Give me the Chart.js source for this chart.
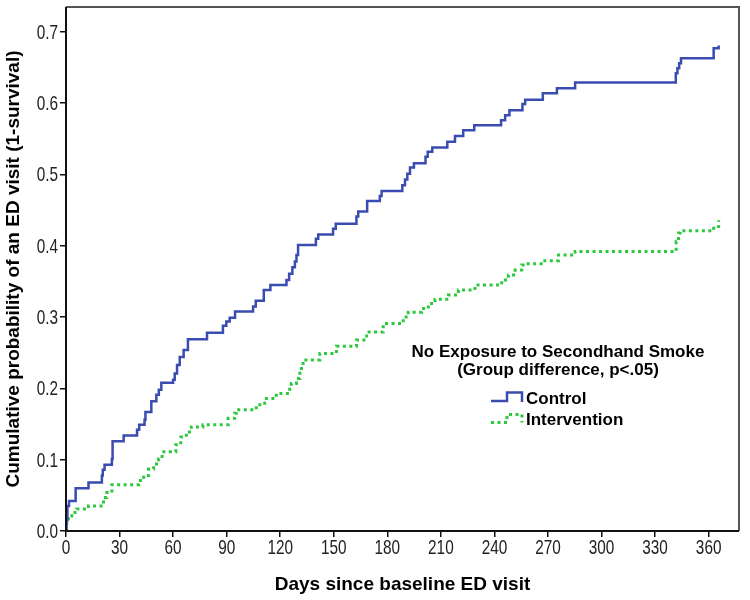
<!DOCTYPE html>
<html>
<head>
<meta charset="utf-8">
<script src="https://cdn.jsdelivr.net/npm/chart.js@4.4.1/dist/chart.umd.min.js"></script>
<style>
  html, body { margin: 0; padding: 0; background: #ffffff; }
  #wrap { width: 750px; height: 600px; position: relative; }
</style>
</head>
<body>
<div id="wrap"><canvas id="c" width="750" height="600"></canvas></div>
<script>
// ---- Data ----
const xTitle = "Days since baseline ED visit";
const yTitle = "Cumulative probability of an ED visit (1-survival)";
const legendTitle = ["No Exposure to Secondhand Smoke", "(Group difference, p<.05)"];
const seriesNames = ["Control", "Intervention"];

const controlDays = [0, 0.3, 0.8, 1.7, 5.4, 12.6, 20.1, 20.6, 21.6, 25.7, 26.1, 32.3, 39.8, 41, 44, 44.5, 47.8, 50.6, 52, 53.4,
  60, 60.9, 62.2, 63.7, 65.9, 68.3, 79, 87.9, 89.8, 91.7, 94.7, 104.8, 106.3, 110.8, 114.5, 123.5, 125,
  126.8, 128.2, 129.1, 130, 140, 141.3, 149.6, 151.1, 162.7, 163.7, 168.7, 175.8, 176.8, 188.4, 189.9, 191.2, 192.7, 194.9,
  201.4, 202.6, 205.2, 213.6, 217.9, 222.5, 228.7, 243.7, 246, 248.4, 255.7, 257.2,
  267.1, 275, 285.2, 341.6, 342.5, 343.5, 344.5, 362.8, 365.6];
const controlValues = [0, 0.015, 0.035, 0.042, 0.060, 0.068, 0.078, 0.086, 0.093, 0.101, 0.126, 0.134, 0.142, 0.149, 0.156, 0.167, 0.182, 0.191, 0.198, 0.208,
  0.212, 0.221, 0.233, 0.244, 0.254, 0.269, 0.278, 0.288, 0.294, 0.299, 0.308, 0.315, 0.323, 0.338, 0.345, 0.352, 0.361,
  0.370, 0.378, 0.387, 0.401, 0.410, 0.416, 0.424, 0.431, 0.441, 0.448, 0.463, 0.470, 0.477, 0.485, 0.493, 0.501, 0.510, 0.516,
  0.525, 0.532, 0.538, 0.546, 0.554, 0.562, 0.569, 0.576, 0.583, 0.590, 0.599, 0.605,
  0.614, 0.621, 0.629, 0.642, 0.649, 0.656, 0.663, 0.677, 0.681];

const interventionDays = [0, 0.4, 1.3, 3.2, 6, 12.6, 21, 22.9, 25.7, 40.7, 43.5, 46.3, 49.1, 51.9, 53.8, 61.5, 64.3, 67.4, 70.2,
  76.7, 90.8, 94.5, 95.4, 106.6, 111.3, 117.8, 125.3, 126.2,
  129.1, 131, 132.8, 142.2, 151.5, 162.7, 168.4, 177.7, 188.9, 191.7,
  199.2, 203, 206.7, 214.2, 219.8, 229.1, 244.1, 247.8, 251.6, 255.3, 257.2,
  267.1, 275.9, 285.2, 341.8, 343.1, 344, 362.8, 365.6];
const interventionValues = [0, 0.012, 0.021, 0.026, 0.031, 0.035, 0.047, 0.054, 0.065, 0.071, 0.078, 0.087, 0.094, 0.101, 0.111, 0.121, 0.132, 0.139, 0.146,
  0.149, 0.158, 0.165, 0.170, 0.177, 0.186, 0.193, 0.202, 0.207,
  0.214, 0.228, 0.240, 0.249, 0.259, 0.268, 0.279, 0.291, 0.300, 0.307,
  0.312, 0.319, 0.325, 0.331, 0.338, 0.345, 0.352, 0.359, 0.366, 0.373, 0.375,
  0.379, 0.387, 0.392, 0.406, 0.418, 0.421, 0.427, 0.436];

const xTickStep = 30;
const yTickStep = 0.1;
const xMax = 377;
const yMax = 0.735;

// ---- Styles ----
const blue = '#3a4cb0';
const green = '#2cc83e';
const tickFont = "'Liberation Sans', Arial, sans-serif";
const boldFont = "'Liberation Sans', Arial, sans-serif";

function toPoints(xs, ys) { return xs.map((x, i) => ({ x: x, y: ys[i] })); }

const frameAndLegend = {
  id: 'frameAndLegend',
  afterDatasetsDraw(chart) {
    const ctx = chart.ctx;
    const a = chart.chartArea;
    ctx.save();
    // top & right frame
    ctx.strokeStyle = '#555';
    ctx.lineWidth = 2;
    ctx.beginPath();
    ctx.moveTo(a.left, a.top);
    ctx.lineTo(a.right, a.top);
    ctx.lineTo(a.right, a.bottom);
    ctx.stroke();
    // left & bottom axes
    ctx.strokeStyle = '#111';
    ctx.beginPath();
    ctx.moveTo(a.left, a.top);
    ctx.lineTo(a.left, a.bottom);
    ctx.lineTo(a.right, a.bottom);
    ctx.stroke();

    // condensed tick labels (narrow face, like the reference)
    ctx.fillStyle = '#222';
    ctx.font = '21px ' + tickFont;
    ctx.textBaseline = 'middle';
    const xs = chart.scales.x, ys = chart.scales.y;
    ctx.textAlign = 'center';
    xs.ticks.forEach(t => {
      const px = xs.getPixelForValue(t.value);
      ctx.save();
      ctx.translate(px, a.bottom + 17);
      ctx.scale(0.73, 1);
      ctx.fillText(String(t.value), 0, 0);
      ctx.restore();
    });
    ctx.textAlign = 'right';
    ys.ticks.forEach(t => {
      const py = ys.getPixelForValue(t.value);
      ctx.save();
      ctx.translate(a.left - 8, py + 1);
      ctx.scale(0.73, 1);
      ctx.fillText(t.value.toFixed(1), 0, 0);
      ctx.restore();
    });

    // legend block (anchored to chart area)
    const cx = a.left + 492;
    ctx.fillStyle = '#000';
    ctx.textAlign = 'center';
    ctx.textBaseline = 'middle';
    ctx.font = 'bold 17px ' + boldFont;
    ctx.fillText(legendTitle[0], cx, a.top + 345);
    ctx.fillText(legendTitle[1], cx, a.top + 363);

    const ix0 = a.left + 425, ixm = a.left + 441, ix1 = a.left + 456;
    // control icon
    ctx.strokeStyle = blue;
    ctx.lineWidth = 2.5;
    ctx.setLineDash([]);
    let yb = a.top + 394, yt = a.top + 385.5;
    ctx.beginPath();
    ctx.moveTo(ix0, yb); ctx.lineTo(ixm, yb); ctx.lineTo(ixm, yt); ctx.lineTo(ix1, yt); ctx.lineTo(ix1, yb + 1);
    ctx.stroke();
    // intervention icon
    ctx.strokeStyle = green;
    ctx.lineWidth = 3;
    ctx.setLineDash([3, 3.5]);
    yb = a.top + 415.5; yt = a.top + 407.5;
    ctx.beginPath();
    ctx.moveTo(ix0, yb); ctx.lineTo(ixm, yb); ctx.lineTo(ixm, yt); ctx.lineTo(ix1, yt); ctx.lineTo(ix1, yb);
    ctx.stroke();
    ctx.setLineDash([]);

    ctx.textAlign = 'left';
    ctx.fillStyle = '#000';
    ctx.fillText(seriesNames[0], a.left + 460, a.top + 392);
    ctx.fillText(seriesNames[1], a.left + 460, a.top + 413);
    ctx.restore();
  }
};

new Chart(document.getElementById('c'), {
  type: 'line',
  data: {
    datasets: [
      {
        label: seriesNames[0],
        data: toPoints(controlDays, controlValues),
        borderColor: blue,
        borderWidth: 2.5,
        stepped: true,
        pointRadius: 0,
        fill: false
      },
      {
        label: seriesNames[1],
        data: toPoints(interventionDays, interventionValues),
        borderColor: green,
        borderWidth: 3,
        borderDash: [3, 3.5],
        stepped: true,
        pointRadius: 0,
        fill: false
      }
    ]
  },
  options: {
    responsive: false,
    animation: false,
    events: [],
    layout: { padding: { top: 7, right: 11, left: 0, bottom: 0 } },
    plugins: {
      legend: { display: false },
      tooltip: { enabled: false },
      title: { display: false }
    },
    scales: {
      x: {
        type: 'linear',
        min: 0,
        max: xMax,
        afterFit(scale) { scale.height = 69; },
        ticks: {
          stepSize: xTickStep,
          includeBounds: false,
          maxRotation: 0,
          autoSkip: false,
          display: false
        },
        grid: { drawOnChartArea: false, drawTicks: true, tickLength: 6, color: '#111', lineWidth: 1.5 },
        border: { display: false },
        title: {
          display: true,
          text: xTitle,
          color: '#000',
          font: { family: boldFont, size: 19, weight: 'bold' },
          padding: { top: 0, bottom: 4 }
        }
      },
      y: {
        type: 'linear',
        min: 0,
        max: yMax,
        afterFit(scale) { scale.width = 66; },
        ticks: {
          stepSize: yTickStep,
          includeBounds: false,
          display: false
        },
        grid: { drawOnChartArea: false, drawTicks: true, tickLength: 6, color: '#111', lineWidth: 1.5 },
        border: { display: false },
        title: {
          display: true,
          text: yTitle,
          color: '#000',
          font: { family: boldFont, size: 19, weight: 'bold' },
          padding: { top: 2, bottom: 0 }
        }
      }
    }
  },
  plugins: [frameAndLegend]
});
</script>
</body>
</html>
